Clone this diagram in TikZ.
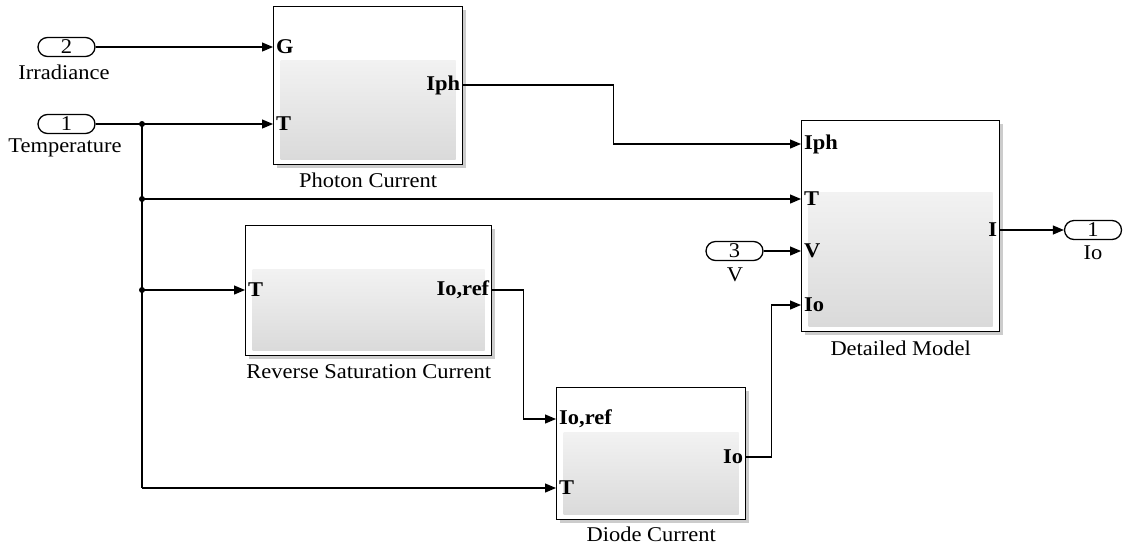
\documentclass[tikz,border=0pt]{standalone}
\usepackage{fontspec}
\setmainfont[FakeStretch=1.07]{Liberation Serif}
\usetikzlibrary{arrows.meta,shapes.misc,shadows,calc}
\begin{document}
\begin{tikzpicture}[x=1pt,y=-1pt,
  font=\fontsize{21}{23}\selectfont,
  blk/.style={draw=black, line width=1.4pt, fill=white, anchor=north west, inner sep=0pt,
    drop shadow={shadow xshift=3pt, shadow yshift=-3pt, fill=black!40, opacity=0.5},
    path picture={\shade[top color=white, bottom color=black!15]
      ($(path picture bounding box.south west)+(7pt,5pt)$) rectangle
      ($(path picture bounding box.south east)!0.66!(path picture bounding box.north east)+(-7pt,0)$);}},
  pill/.style={rounded rectangle, draw=black, line width=1.3pt, fill=white, minimum width=57pt, minimum height=19pt, inner sep=0pt},
  pl/.style={font=\fontsize{21}{23}\selectfont\bfseries, inner sep=3pt},
  lbl/.style={inner sep=0pt},
  sig/.style={line width=1.2pt, -{Triangle[length=11pt,width=9pt]}},
  wire/.style={line width=1.2pt},
  dot/.style={circle, fill=black, inner sep=0pt, minimum size=6pt}]
\useasboundingbox (0,0) rectangle (1126,547);

% blocks
\node[blk, minimum width=189pt, minimum height=158pt] (pc) at (273,6) {};
\node[blk, minimum width=246pt, minimum height=130pt] (rsc) at (245,225) {};
\node[blk, minimum width=189pt, minimum height=132pt] (dc) at (556,387) {};
\node[blk, minimum width=198pt, minimum height=211pt] (dm) at (801,120) {};

% block captions
\node[lbl] (pcl) at ($(pc.south)+(0,15)$) {Photon Current};
\node[lbl] (rscl) at ($(rsc.south)+(0,15)$) {Reverse Saturation Current};
\node[lbl] (dcl) at ($(dc.south)+(0,14)$) {Diode Current};
\node[lbl] (dml) at ($(dm.south)+(0,16)$) {Detailed Model};

% ports
\coordinate (pcG) at ($(pc.north west)+(0,41)$);
\coordinate (pcT) at ($(pc.north west)+(0,118)$);
\coordinate (pcO) at ($(pc.north east)+(0,79)$);
\coordinate (rscT) at ($(rsc.north west)+(0,65)$);
\coordinate (rscO) at ($(rsc.north east)+(0,65)$);
\coordinate (dcR) at ($(dc.north west)+(0,32)$);
\coordinate (dcT) at ($(dc.north west)+(0,101)$);
\coordinate (dcO) at ($(dc.north east)+(0,70)$);
\coordinate (dmIph) at ($(dm.north west)+(0,24)$);
\coordinate (dmT) at ($(dm.north west)+(0,79)$);
\coordinate (dmV) at ($(dm.north west)+(0,131)$);
\coordinate (dmIo) at ($(dm.north west)+(0,185)$);
\coordinate (dmO) at ($(dm.north east)+(0,110)$);

\node[pl, anchor=west] (lG) at (pcG) {G};
\node[pl, anchor=west] (lT1) at (pcT) {T};
\node[pl, anchor=east] (lIph) at (pcO) {Iph};
\node[pl, anchor=west] (lT2) at (rscT) {T};
\node[pl, anchor=east] (lIoref1) at (rscO) {Io,ref};
\node[pl, anchor=west] (lIoref2) at (dcR) {Io,ref};
\node[pl, anchor=west] (lT3) at (dcT) {T};
\node[pl, anchor=east] (lIo1) at (dcO) {Io};
\node[pl, anchor=west] (lIph2) at (dmIph) {Iph};
\node[pl, anchor=west] (lT4) at (dmT) {T};
\node[pl, anchor=west] (lV) at (dmV) {V};
\node[pl, anchor=west] (lIo2) at (dmIo) {Io};
\node[pl, anchor=east] (lI) at (dmO) {I};

% in/out ports
\node[pill] (in2) at (66.5,47) {2};
\node[lbl] (in2l) at (64,72) {Irradiance};
\node[pill] (in1) at (66.5,124) {1};
\node[lbl] (in1l) at (65,148) {Temperature};
\node[pill] (in3) at (734.5,251) {3};
\node[lbl] (in3l) at (735,275) {V};
\node[pill] (out1) at (1093,230) {1};
\node[lbl] (out1l) at (1093,253) {Io};

% junctions
\node[dot] (j1) at (142,124) {};
\node[dot] (j2) at (142,199) {};
\node[dot] (j3) at (142,290) {};
\coordinate (jb) at (142,488);

% connectors
\draw[sig] (in2.east) -- (pcG);
\draw[sig] (in1.east) -- (pcT);
\draw[wire] (j1.center) -- (jb);
\draw[sig] (jb) -- (dcT);
\draw[sig] (j2.center) -- (dmT);
\draw[sig] (j3.center) -- (rscT);
\draw[sig] (pcO) -- ++(150,0) |- (dmIph);
\draw[sig] (rscO) -- ++(31,0) |- (dcR);
\draw[sig] (dcO) -- ++(25,0) |- (dmIo);
\draw[sig] (in3.east) -- (dmV);
\draw[sig] (dmO) -- (out1.west);
\end{tikzpicture}
\end{document}
